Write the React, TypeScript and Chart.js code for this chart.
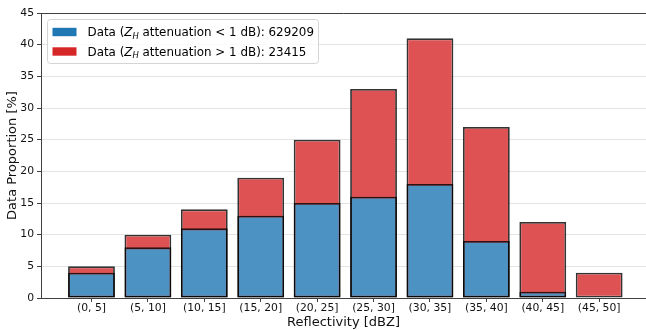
import React, { useEffect, useRef } from "react";
import { Chart, registerables } from "chart.js";

Chart.register(...registerables);

const categories = ["(0, 5]", "(5, 10]", "(10, 15]", "(15, 20]", "(20, 25]", "(25, 30]", "(30, 35]", "(35, 40]", "(40, 45]", "(45, 50]"];
const lowAttenuation = [4, 8, 11, 13, 15, 16, 18, 9, 1, 0];
const highAttenuation = [1, 2, 3, 6, 10, 17, 23, 18, 11, 4];
const legendCounts = [629209, 23415];
const legendOps = ["<", ">"];
const yTicks = [0, 5, 10, 15, 20, 25, 30, 35, 40, 45];

const FONT = "'DejaVu Sans', sans-serif";
const BLUE = "#1f77b4";
const RED = "#d62728";
const BLUE_FILL = "#4c92c3";
const RED_FILL = "#de5253";
const EDGE = "rgba(0,0,0,0.8)";
const SPINE = "#404040";

const framePlugin = {
  id: "frameAndLegend",
  afterDraw(chart: any) {
    const { ctx, chartArea } = chart;
    ctx.save();
    // top spine
    ctx.strokeStyle = SPINE;
    ctx.lineWidth = 1;
    ctx.beginPath();
    ctx.moveTo(chartArea.left, Math.round(chartArea.top) + 0.5);
    ctx.lineTo(chartArea.right, Math.round(chartArea.top) + 0.5);
    ctx.stroke();

    // legend
    const bx = chartArea.left + 6.5;
    const by = chartArea.top + 6.5;
    const bw = 271;
    const bh = 44;
    const r = 3;
    ctx.beginPath();
    ctx.moveTo(bx + r, by);
    ctx.lineTo(bx + bw - r, by);
    ctx.arcTo(bx + bw, by, bx + bw, by + r, r);
    ctx.lineTo(bx + bw, by + bh - r);
    ctx.arcTo(bx + bw, by + bh, bx + bw - r, by + bh, r);
    ctx.lineTo(bx + r, by + bh);
    ctx.arcTo(bx, by + bh, bx, by + bh - r, r);
    ctx.lineTo(bx, by + r);
    ctx.arcTo(bx, by, bx + r, by, r);
    ctx.closePath();
    ctx.fillStyle = "rgba(255,255,255,0.8)";
    ctx.fill();
    ctx.strokeStyle = "#d4d4d4";
    ctx.stroke();

    const colors = [BLUE, RED];
    const fs = 11.9;
    for (let i = 0; i < 2; i++) {
      const cy = by + 12.5 + i * 19.5;
      ctx.fillStyle = colors[i];
      ctx.fillRect(bx + 5, cy - 4.2, 24, 8.4);
      let x = bx + 40;
      const base = cy + 4.3;
      ctx.fillStyle = "#000";
      ctx.textBaseline = "alphabetic";
      ctx.textAlign = "left";
      ctx.font = `${fs}px ${FONT}`;
      const pre = "Data (";
      ctx.fillText(pre, x, base);
      x += ctx.measureText(pre).width;
      ctx.font = `italic ${fs}px ${FONT}`;
      ctx.fillText("Z", x, base);
      x += ctx.measureText("Z").width;
      ctx.font = `italic ${fs * 0.7}px ${FONT}`;
      ctx.fillText("H", x, base + 2.2);
      x += ctx.measureText("H").width;
      ctx.font = `${fs}px ${FONT}`;
      ctx.fillText(` attenuation ${legendOps[i]} 1 dB): ${legendCounts[i]}`, x, base);
    }
    ctx.restore();
  },
};

export default function App() {
  const ref = useRef<HTMLCanvasElement>(null);
  useEffect(() => {
    if (!ref.current) return;
    const chart = new Chart(ref.current, {
      type: "bar",
      data: {
        datasets: [
          {
            label: "Data (Z_H attenuation < 1 dB)",
            data: lowAttenuation.map((v, i) => ({ x: i, y: v })),
            backgroundColor: BLUE_FILL,
            borderColor: EDGE,
            borderWidth: 1.8,
            borderSkipped: false,
            barPercentage: 0.83,
            categoryPercentage: 1,
            grouped: false,
          },
          {
            // red segment sits on top of the blue one: its bar spans up to low + high
            label: "Data (Z_H attenuation > 1 dB)",
            data: highAttenuation.map((v, i) => ({ x: i, y: lowAttenuation[i] + v })),
            backgroundColor: RED_FILL,
            borderColor: EDGE,
            borderWidth: 1.8,
            borderSkipped: false,
            barPercentage: 0.83,
            categoryPercentage: 1,
            grouped: false,
          },
        ],
      },
      options: {
        responsive: false,
        animation: false,
        devicePixelRatio: 1,
        layout: { padding: { top: 13, left: 0, right: 0, bottom: 0 } },
        plugins: { legend: { display: false }, tooltip: { enabled: false } },
        scales: {
          x: {
            type: "linear",
            offset: false,
            min: -0.895,
            max: 9.83,
            afterBuildTicks: (scale: any) => {
              scale.ticks = categories.map((_, i) => ({ value: i }));
            },
            afterFit: (scale: any) => {
              scale.height = 32;
            },
            ticks: {
              callback: (v: any) => categories[v] ?? "",
              font: { family: FONT, size: 10.8 },
              color: "#111",
              padding: 0,
              maxRotation: 0,
              autoSkip: false,
            },
            grid: {
              offset: false,
              drawOnChartArea: false,
              drawTicks: true,
              tickLength: 4,
              tickColor: SPINE,
            },
            border: { color: SPINE, width: 1 },
            title: {
              display: true,
              text: "Reflectivity [dBZ]",
              font: { family: FONT, size: 13 },
              color: "#111",
              padding: { top: 0, bottom: 0 },
            },
          },
          y: {
            min: 0,
            max: 45,
            afterBuildTicks: (scale: any) => {
              scale.ticks = yTicks.map((v) => ({ value: v }));
            },
            afterFit: (scale: any) => {
              scale.width = 41;
            },
            ticks: {
              font: { family: FONT, size: 10.8 },
              color: "#111",
              padding: 3,
            },
            grid: {
              color: "#e3e3e3",
              lineWidth: 1,
              tickLength: 4,
              tickColor: SPINE,
            },
            border: { color: SPINE, width: 1 },
            title: {
              display: true,
              text: "Data Proportion [%]",
              font: { family: FONT, size: 13 },
              color: "#111",
              padding: { top: 5, bottom: 0 },
            },
          },
        },
      },
      plugins: [framePlugin],
    });
    return () => chart.destroy();
  }, []);
  return (
    <div style={{ position: "fixed", left: 0, top: 0, width: 646, height: 330, background: "#fff" }}>
      <canvas ref={ref} width={646} height={330} style={{ display: "block" }} />
    </div>
  );
}
